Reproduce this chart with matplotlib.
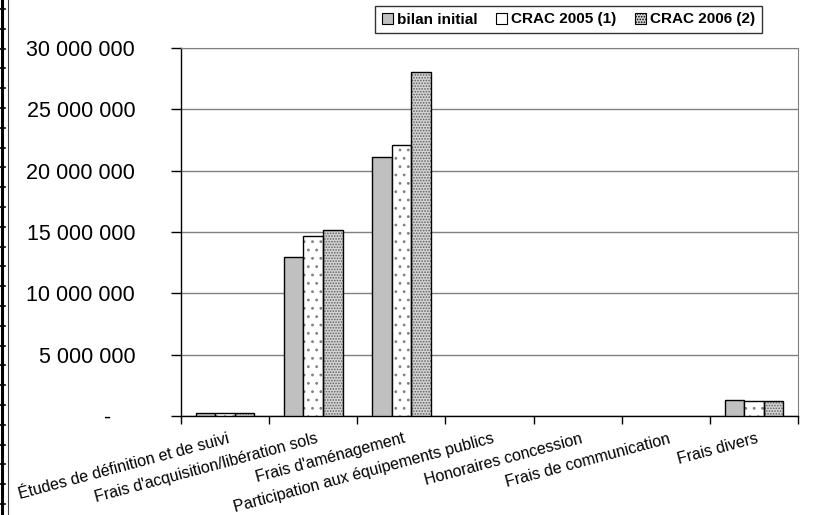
import matplotlib
matplotlib.use("Agg")
import matplotlib.pyplot as plt
import numpy as np
from matplotlib.patches import Patch
from matplotlib.lines import Line2D
from matplotlib.ticker import FuncFormatter, FixedLocator

plt.rcParams['font.family'] = ['Liberation Sans', 'DejaVu Sans']
plt.rcParams['hatch.linewidth'] = 0.8

categories = ["Études de définition et de suivi",
              "Frais d'acquisition/libération sols",
              "Frais d'aménagement",
              "Participation aux équipements publics",
              "Honoraires concession",
              "Frais de communication",
              "Frais divers"]
series_names = ["bilan initial", "CRAC 2005 (1)", "CRAC 2006 (2)"]
bilan_initial = [280000, 12930000, 21080000, 0, 0, 0, 1300000]
crac_2005 = [280000, 14700000, 22090000, 0, 0, 0, 1250000]
crac_2006 = [280000, 15190000, 28060000, 0, 0, 0, 1250000]
y_ticks = [0, 5000000, 10000000, 15000000, 20000000, 25000000, 30000000]

W, H = 814, 515
fig = plt.figure(figsize=(W / 100, H / 100), dpi=100)
ax = fig.add_axes([181 / W, 1 - 416 / H, (798 - 181) / W, (416 - 48) / H])

x = np.arange(len(categories))
bw = 1 / 4.5


def draw(offset, vals, face, hatch=None, hatch_color=None):
    vals = np.asarray(vals, dtype=float)
    m = vals > 0
    xs = x[m] + offset
    if hatch:
        ax.bar(xs, vals[m], bw, color=face, edgecolor=hatch_color, linewidth=0,
               hatch=hatch, zorder=3)
        ax.bar(xs, vals[m], bw, fill=False, edgecolor='black', linewidth=1.0, zorder=4)
    else:
        ax.bar(xs, vals[m], bw, color=face, edgecolor='black', linewidth=1.0, zorder=3)


draw(-bw, bilan_initial, '#c0c0c0')
draw(0, crac_2005, 'white', '..', '#808080')
draw(bw, crac_2006, '#d4d4d4', '......', '#606060')

ax.set_xlim(-0.5, len(categories) - 0.5)
ax.set_ylim(0, 30000000)

ax.yaxis.set_major_locator(FixedLocator(y_ticks))
ax.yaxis.set_major_formatter(FuncFormatter(
    lambda v, p: "-    " if v == 0 else f"{int(v):,}".replace(",", " ")))
ax.tick_params(axis='y', which='major', direction='out', length=7, width=1,
               labelsize=15.5, pad=26, color='black')
ax.grid(axis='y', color='#808080', linewidth=1, zorder=0)
ax.set_axisbelow(True)

ax.set_xticks(x)
ax.set_xticklabels([])
ax.set_xticks(np.arange(-0.5, len(categories)), minor=True)
ax.tick_params(axis='x', which='major', length=0)
ax.tick_params(axis='x', which='minor', direction='out', length=6, width=1, color='black')

for xi, lab in zip(x, categories):
    ax.annotate(lab, xy=(xi, 0), xycoords=('data', 'axes fraction'),
                xytext=(2, -15), textcoords='offset pixels',
                rotation=15, rotation_mode='anchor', ha='right', va='top',
                fontsize=11.5)

for s in ['left', 'bottom']:
    ax.spines[s].set_color('black')
    ax.spines[s].set_linewidth(1)
ax.spines['right'].set_color('#808080')
ax.spines['top'].set_color('#808080')

handles = [Patch(facecolor='#c0c0c0', edgecolor='black', linewidth=0.8),
           Patch(facecolor='white', edgecolor='black', linewidth=0.8),
           Patch(facecolor='#d4d4d4', edgecolor='black', linewidth=0.8, hatch='......')]
leg = fig.legend(handles, series_names, loc='center', ncol=3,
                 bbox_to_anchor=((376 + 761) / 2 / W, 1 - 19.5 / H),
                 prop={'weight': 'bold', 'size': 11},
                 handlelength=0.75, handleheight=0.75, handletextpad=0.25,
                 columnspacing=1.2, borderpad=0.45, fancybox=False,
                 frameon=True, edgecolor='black', borderaxespad=0)
leg.get_frame().set_linewidth(1)

# page border on left edge
fig.add_artist(Line2D([1.5 / W, 1.5 / W], [0, 1], color='black', linewidth=2.2))
fig.add_artist(Line2D([8 / W, 8 / W], [0, 1], color='#404040', linewidth=0.8))
for yy in np.arange(9, H, 19.8):
    fig.add_artist(Line2D([0, 5 / W], [1 - yy / H, 1 - yy / H], color='black', linewidth=1.2))

fig.savefig("out.png", dpi=100)
